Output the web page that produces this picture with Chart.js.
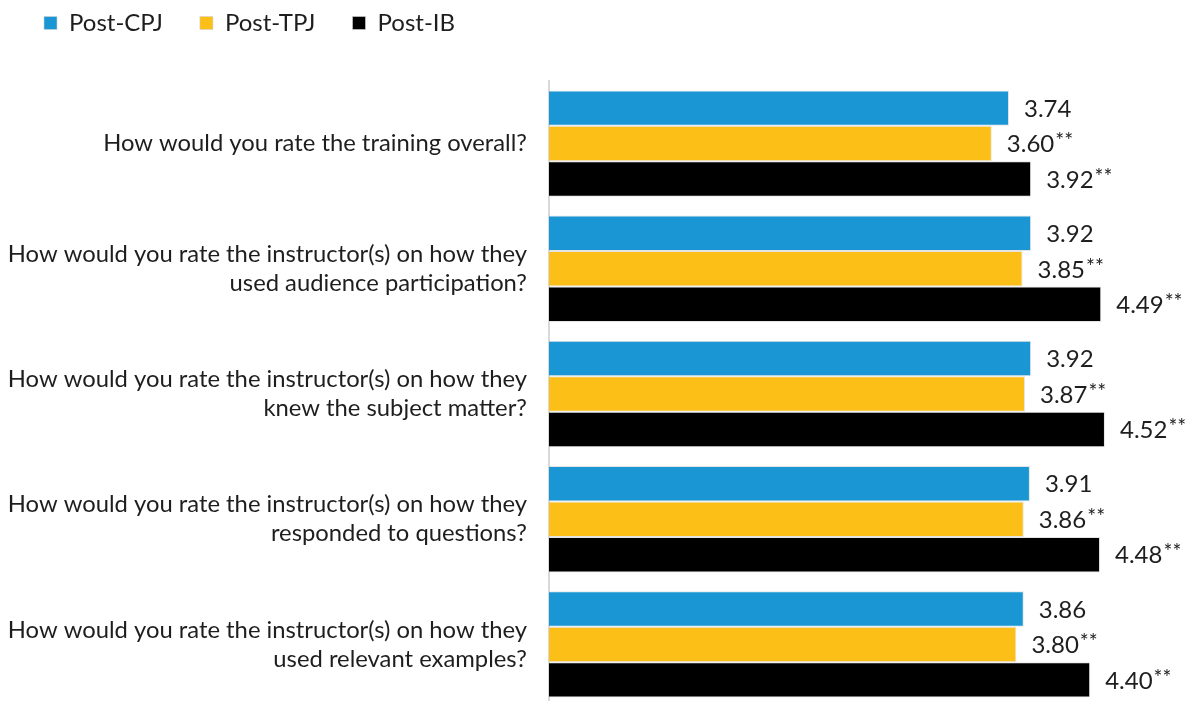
<!DOCTYPE html>
<html>
<head>
<meta charset="utf-8">
<script src="https://cdn.jsdelivr.net/npm/chart.js@4.4.1/dist/chart.umd.min.js"></script>
<style>
    html, body { margin: 0; padding: 0; background: #fff; overflow: hidden; }
</style>
</head>
<body>
<canvas id="ratingsChart" width="1190" height="708"></canvas>
<script>
// DATA
var categories = [
    ["How would you rate the training overall?"],
    ["How would you rate the instructor(s) on how they", "used audience participation?"],
    ["How would you rate the instructor(s) on how they", "knew the subject matter?"],
    ["How would you rate the instructor(s) on how they", "responded to questions?"],
    ["How would you rate the instructor(s) on how they", "used relevant examples?"],
]
var seriesNames = ["Post-CPJ", "Post-TPJ", "Post-IB"]
var postCPJ = [3.74, 3.92, 3.92, 3.91, 3.86]
var postTPJ = [3.6, 3.85, 3.87, 3.86, 3.8]
var postIB = [3.92, 4.49, 4.52, 4.48, 4.4]
var seriesMarks = ["", "**", "**"]

var textColor = "#1e1e1e"

// value labels next to each bar, with the significance stars raised
var valueLabels = {
    id: "valueLabels",
    afterDatasetsDraw: function (chart) {
        var ctx = chart.ctx
        ctx.save()
        ctx.fillStyle = textColor
        ctx.textBaseline = "middle"
        ctx.textAlign = "left"
        chart.data.datasets.forEach(function (ds, i) {
            chart.getDatasetMeta(i).data.forEach(function (bar, j) {
                var txt = ds.data[j].toFixed(2)
                var x = bar.x + 15
                ctx.font = "24px Lato"
                ctx.fillText(txt, x, bar.y + 1)
                if (seriesMarks[i]) {
                    var w = ctx.measureText(txt).width
                    ctx.font = "21px Lato"
                    ctx.fillText(seriesMarks[i], x + w + 1, bar.y - 2)
                }
            })
        })
        ctx.restore()
    },
}

// give the legend a fixed height so the plot starts where it should
var legendHeight = {
    id: "legendHeight",
    beforeInit: function (chart) {
        var fit = chart.legend.fit
        chart.legend.fit = function () {
            fit.call(this)
            this.height = 107
        }
    },
}

new Chart(document.getElementById("ratingsChart"), {
    type: "bar",
    data: {
        labels: categories,
        datasets: [
            { label: seriesNames[0], data: postCPJ, backgroundColor: "#1996d3" },
            { label: seriesNames[1], data: postTPJ, backgroundColor: "#fcbf17" },
            { label: seriesNames[2], data: postIB, backgroundColor: "#000000" },
        ],
    },
    options: {
        indexAxis: "y",
        responsive: false,
        animation: false,
        devicePixelRatio: 1,
        layout: { padding: { top: -26, left: 7, right: 26, bottom: 1 } },
        datasets: {
            bar: {
                categoryPercentage: 0.85,
                barPercentage: 1.0,
                borderWidth: 1,
                borderColor: "rgba(210,210,210,0.6)",
                borderSkipped: "start",
            },
        },
        scales: {
            x: { display: false, min: 0, max: 5 },
            y: {
                afterFit: function (scale) {
                    scale.width = 542
                    scale.paddingTop = 0
                    scale.paddingBottom = 0
                },
                grid: { display: false, drawTicks: false },
                border: { display: true, color: "#d9d9d9", width: 2 },
                ticks: {
                    padding: 22,
                    color: textColor,
                    font: { family: "Lato", size: 23.8, lineHeight: 1.22 },
                },
            },
        },
        plugins: {
            tooltip: { enabled: false },
            legend: {
                position: "top",
                align: "start",
                labels: {
                    boxWidth: 13,
                    boxHeight: 13,
                    padding: 37,
                    color: textColor,
                    font: { family: "Lato", size: 24 },
                },
            },
        },
    },
    plugins: [valueLabels, legendHeight],
})
</script>
</body>
</html>
